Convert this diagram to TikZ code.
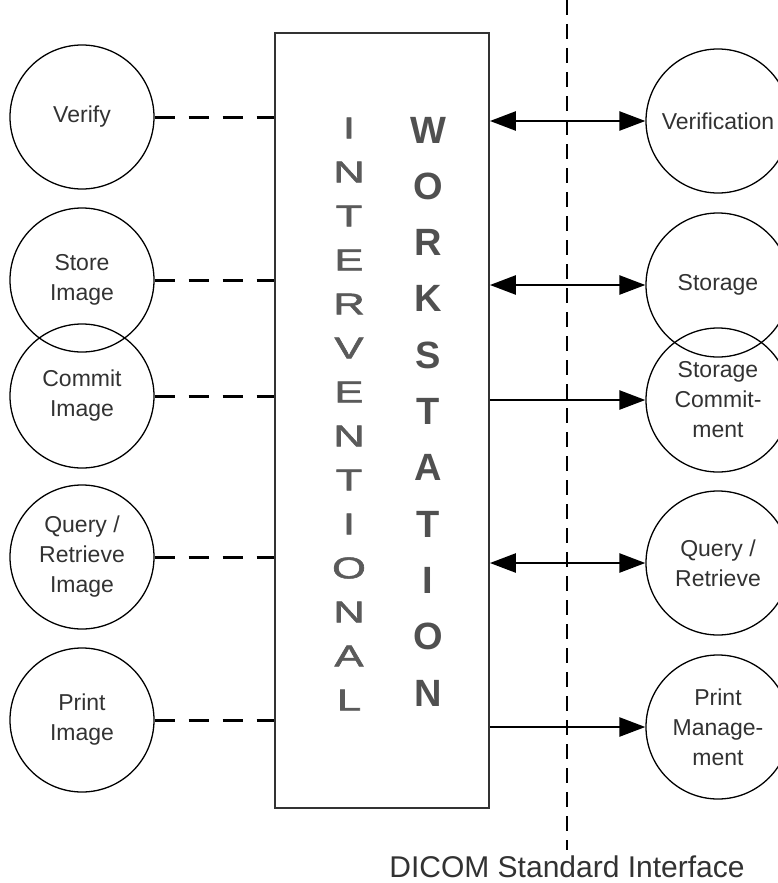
\documentclass[tikz,border=0pt]{standalone}
\usepackage{fontspec}
\setmainfont{Liberation Sans}
\newfontfamily\widefont[FakeBold=1.6]{Liberation Sans}
\usetikzlibrary{arrows.meta}
\definecolor{txtgray}{RGB}{50,50,50}
\definecolor{boldgray}{RGB}{80,80,80}
\definecolor{thingray}{RGB}{90,90,90}

\begin{document}
\begin{tikzpicture}[x=1pt,y=-1pt,
  svc/.style={circle,draw,line width=1.3pt,minimum size=144pt,inner sep=0pt,align=center,
    font=\fontsize{23}{30}\selectfont,text=txtgray},
  link/.style={line width=3pt,dash pattern=on 20pt off 14pt},
  msg/.style={line width=2.5pt,-{Triangle[length=26pt,width=19pt]}},
  msgboth/.style={line width=2.5pt,{Triangle[length=26pt,width=19pt]}-{Triangle[length=26pt,width=19pt]}},
  iface/.style={line width=2.5pt,dash pattern=on 15pt off 9pt},
  thinletter/.style={inner sep=0pt,text=thingray,font=\widefont\fontsize{30}{30}\selectfont},
  boldletter/.style={inner sep=0pt,text=boldgray,font=\fontsize{38}{38}\selectfont\bfseries}]
\useasboundingbox (0,0) rectangle (778,883);

\node[draw,line width=1.8pt,draw=black!80,minimum width=214pt,minimum height=775pt,inner sep=0pt] (ws) at (382,420.5) {};

\foreach \ch [count=\k] in {I,N,T,E,R,V,E,N,T,I,O,N,A,L}
  \node[thinletter] (iv\k) at (349,{128+44*(\k-1)}) {\scalebox{1.45}[1]{\ch}};
\foreach \ch [count=\k] in {W,O,R,K,S,T,A,T,I,O,N}
  \node[boldletter] (wk\k) at (428,{130+56.3*(\k-1)}) {\ch};

\node[svc] (verify) at (82,117) {Verify};
\node[svc] (store) at (82,280) {Store\\Image};
\node[svc] (commit) at (82,396) {Commit\\Image};
\node[svc] (query) at (82,557) {Query /\\Retrieve\\Image};
\node[svc] (print) at (82,720) {Print\\Image};

\node[svc] (verif) at (718,121) {Verification};
\node[svc] (storage) at (718,285) {Storage};
\node[svc] (stcommit) at (718,400) {Storage\\Commit-\\ment};
\node[svc] (qr) at (718,563) {Query /\\Retrieve};
\node[svc] (pm) at (718,727) {Print\\Manage-\\ment};

\foreach \n in {verify,store,commit,query,print}
  \draw[link] (\n.east) -- (\n.east -| ws.west);

\draw[msgboth] (verif.west -| ws.east) -- (verif.west);
\draw[msgboth] (storage.west -| ws.east) -- (storage.west);
\draw[msg] (stcommit.west -| ws.east) -- (stcommit.west);
\draw[msgboth] (qr.west -| ws.east) -- (qr.west);
\draw[msg] (pm.west -| ws.east) -- (pm.west);

\coordinate (ifctop) at (567,0);
\coordinate (ifcbot) at (567,850);
\draw[iface] (ifctop) -- (ifcbot);
\node[anchor=base,inner sep=0pt,text=txtgray,font=\fontsize{30}{34}\selectfont] (ifclabel) at (567,877) {DICOM Standard Interface};

\end{tikzpicture}
\end{document}
